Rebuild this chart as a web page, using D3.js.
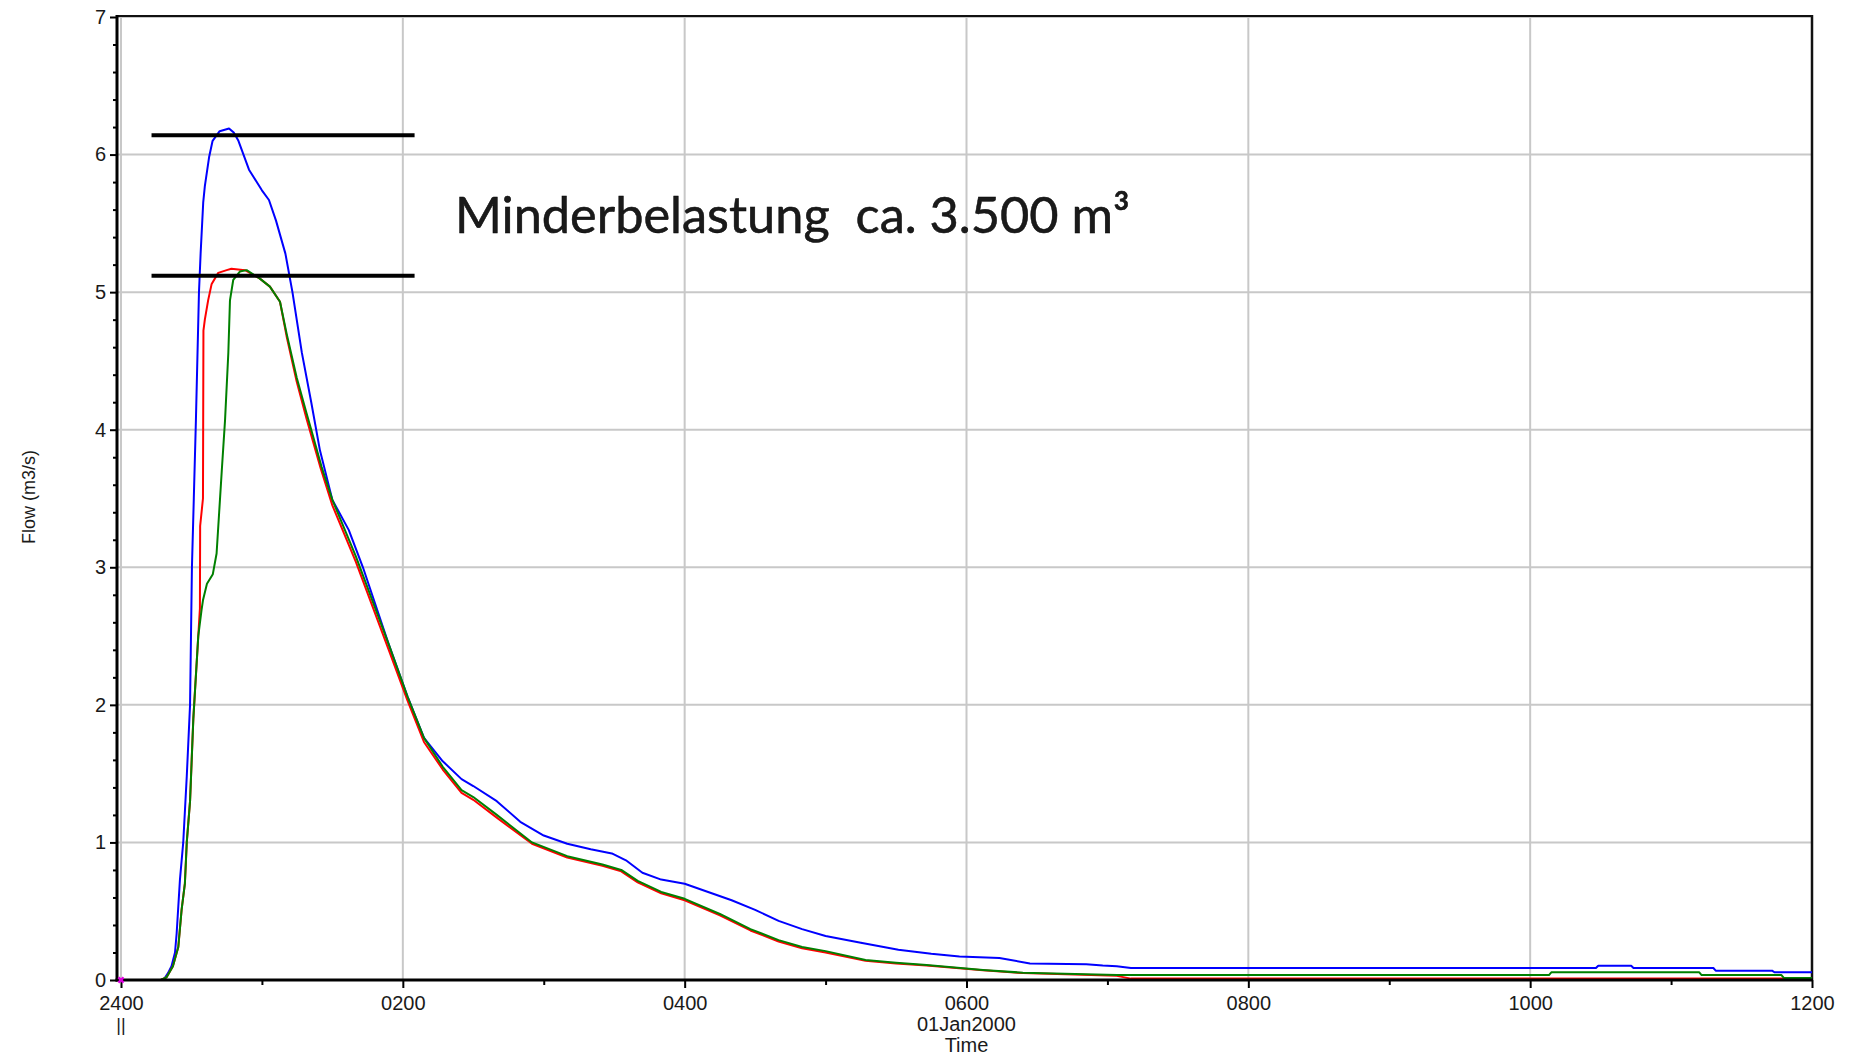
<!DOCTYPE html>
<html>
<head>
<meta charset="utf-8">
<script src="https://cdn.jsdelivr.net/npm/d3@7"></script>
<style>
  body { margin: 0; background: #fff; }
  svg { display: block; }
  text { font-family: "Liberation Sans", Arial, sans-serif; fill: #1a1a1a; }
</style>
</head>
<body>
<svg id="chart" width="1852" height="1056"></svg>
<script>
// time in minutes after 24:00 (31 Dec 1999), flow in m3/s
var blueTime = [0, 17, 18.5, 20, 21.5, 23, 23.7, 25.1, 26.5, 28, 29.4, 30.2, 31, 31.9, 33.2, 33.9, 35, 35.7, 37.5, 39, 42, 46, 48, 50, 54.5, 60, 63, 66, 70, 73, 77, 81, 84.7, 90, 97, 103, 114, 122, 129, 137, 145, 150, 160, 170, 180, 190, 200, 209, 215, 222, 230, 240, 250, 260, 270, 280, 290, 300, 315, 331, 345, 357, 374, 387, 411, 418, 424, 430, 628, 629, 643, 644, 678, 679, 703, 704, 720];
var blueFlow = [0, 0, 0.01, 0.05, 0.1, 0.2, 0.34, 0.73, 1.0, 1.48, 2.0, 3.0, 3.5, 4.07, 5.0, 5.28, 5.65, 5.77, 5.98, 6.1, 6.17, 6.19, 6.16, 6.1, 5.89, 5.74, 5.67, 5.52, 5.28, 5.0, 4.56, 4.2, 3.85, 3.49, 3.27, 3.0, 2.44, 2.06, 1.76, 1.59, 1.46, 1.41, 1.30, 1.15, 1.05, 0.99, 0.95, 0.92, 0.87, 0.78, 0.73, 0.70, 0.64, 0.58, 0.51, 0.43, 0.37, 0.32, 0.27, 0.22, 0.19, 0.17, 0.16, 0.12, 0.115, 0.105, 0.10, 0.087, 0.087, 0.104, 0.104, 0.087, 0.087, 0.068, 0.068, 0.056, 0.056];

var redTime = [0, 17, 19.4, 22.1, 24.4, 25.8, 27.2, 28, 29.4, 30.1, 30.8, 31.5, 32.9, 33.6, 33.7, 34.9, 35.1, 35.7, 37.1, 38.6, 41.4, 45, 47, 52.8, 59, 63.4, 67.7, 70.5, 74.8, 79, 85, 90, 100, 114, 122, 129, 137, 145, 150, 160, 175, 190, 205, 213, 220, 230, 240, 255, 268, 280, 290, 300, 317, 330, 343, 367, 384, 424, 430, 720];
var redFlow = [0, 0, 0.02, 0.1, 0.24, 0.51, 0.7, 1.0, 1.3, 1.6, 1.9, 2.1, 2.5, 2.7, 3.3, 3.5, 4.72, 4.8, 4.94, 5.06, 5.14, 5.16, 5.17, 5.16, 5.10, 5.04, 4.93, 4.68, 4.35, 4.08, 3.72, 3.45, 3.04, 2.40, 2.03, 1.73, 1.53, 1.36, 1.31, 1.18, 0.99, 0.89, 0.83, 0.79, 0.71, 0.63, 0.58, 0.47, 0.36, 0.28, 0.23, 0.20, 0.14, 0.12, 0.105, 0.07, 0.05, 0.03, 0.01, 0.01];

var greenTime = [0, 17, 19.4, 22.1, 24.4, 25.8, 27.2, 28, 29.4, 30.1, 30.8, 31.5, 32.9, 34.3, 34.9, 36.6, 39.1, 40.7, 41.8, 42.9, 44.3, 45.7, 46.4, 47.8, 50.6, 53.5, 59, 63.4, 67.7, 70.5, 74.8, 79, 81, 85.4, 90, 100, 114, 122, 129, 137, 145, 150, 160, 175, 190, 205, 213, 220, 230, 240, 255, 268, 280, 290, 300, 317, 330, 343, 367, 384, 424, 608, 609, 672, 673, 707, 708, 720];
var greenFlow = [0, 0, 0.02, 0.1, 0.24, 0.51, 0.7, 1.0, 1.3, 1.6, 1.9, 2.1, 2.5, 2.69, 2.76, 2.88, 2.95, 3.1, 3.4, 3.7, 4.07, 4.56, 4.94, 5.09, 5.15, 5.16, 5.10, 5.04, 4.93, 4.70, 4.38, 4.12, 4.0, 3.73, 3.49, 3.08, 2.44, 2.06, 1.76, 1.55, 1.38, 1.33, 1.2, 1.0, 0.9, 0.84, 0.80, 0.72, 0.64, 0.59, 0.48, 0.37, 0.29, 0.24, 0.21, 0.145, 0.126, 0.109, 0.073, 0.053, 0.036, 0.036, 0.056, 0.056, 0.036, 0.036, 0.015, 0.015];

// the two peak markers
var peakFlow = [6.14, 5.12];
var peakFrom = 13, peakTo = 125;

var xTicks = [0, 120, 240, 360, 480, 600, 720];
var xTickLabels = ["2400", "0200", "0400", "0600", "0800", "1000", "1200"];
var yTicks = [0, 1, 2, 3, 4, 5, 6, 7];
var noteText = "Minderbelastung\u00a0 ca. 3.500 m\u00b3";

var svg = d3.select("#chart");
var x = d3.scaleLinear().domain([0, 720]).range([121, 1812]);
var y = d3.scaleLinear().domain([0, 7]).range([980, 17]);

// grid
var grid = svg.append("g").attr("stroke", "#c8c8c8").attr("stroke-width", 2);
grid.selectAll("line.v").data(xTicks.slice(0, -1)).enter().append("line")
  .attr("x1", d => x(d)).attr("x2", d => x(d)).attr("y1", y(7)).attr("y2", y(0));
grid.selectAll("line.h").data(yTicks.slice(1)).enter().append("line")
  .attr("x1", x(0) - 4).attr("x2", x(720)).attr("y1", d => y(d)).attr("y2", d => y(d));

// frame top / right
svg.append("line").attr("x1", x(0) - 4).attr("x2", x(720) + 1).attr("y1", y(7) - 1).attr("y2", y(7) - 1)
  .attr("stroke", "#111").attr("stroke-width", 2);
svg.append("line").attr("x1", x(720)).attr("x2", x(720)).attr("y1", y(7) - 2).attr("y2", y(0))
  .attr("stroke", "#111").attr("stroke-width", 2.5);

// series
var line = d3.line().x(d => x(d[0])).y(d => y(d[1]));
function draw(t, v, colour) {
  svg.append("path").datum(d3.zip(t, v))
    .attr("fill", "none").attr("stroke", colour).attr("stroke-width", 2)
    .attr("stroke-linejoin", "round").attr("d", line);
}
draw(blueTime, blueFlow, "#0000ff");
draw(redTime, redFlow, "#ff0000");
draw(greenTime, greenFlow, "#008000");

// peak lines
svg.selectAll("line.peak").data(peakFlow).enter().append("line")
  .attr("x1", x(peakFrom)).attr("x2", x(peakTo))
  .attr("y1", d => y(d)).attr("y2", d => y(d))
  .attr("stroke", "#000").attr("stroke-width", 4);

// axes
svg.append("g").attr("transform", "translate(0," + y(0) + ")")
  .call(d3.axisBottom(x).tickValues(xTicks).tickSize(8).tickPadding(8)
    .tickFormat((d, i) => xTickLabels[i]));
svg.append("g").attr("transform", "translate(0," + y(0) + ")")
  .call(d3.axisBottom(x).tickValues(d3.range(60, 720, 120)).tickSize(5).tickFormat(""));

svg.append("g").attr("transform", "translate(" + (x(0) - 4) + ",0)")
  .call(d3.axisLeft(y).tickValues(yTicks).tickSize(7).tickPadding(4).tickFormat(d3.format("d")));
svg.append("g").attr("transform", "translate(" + (x(0) - 4) + ",0)")
  .call(d3.axisLeft(y).tickValues(d3.range(0, 35).map(d => d / 5).filter(d => d % 1 !== 0))
    .tickSize(4).tickFormat(""));

svg.selectAll(".domain").remove();
svg.selectAll(".tick line").attr("stroke", "#000").attr("stroke-width", 2);
svg.selectAll(".tick text").style("font-size", "20px").attr("fill", "#1a1a1a");

svg.append("line").attr("x1", x(0) - 4).attr("x2", x(0) - 4).attr("y1", y(7) - 2).attr("y2", y(0) + 1.5)
  .attr("stroke", "#000").attr("stroke-width", 3);
svg.append("line").attr("x1", x(0) - 5.5).attr("x2", x(720) + 1).attr("y1", y(0)).attr("y2", y(0))
  .attr("stroke", "#000").attr("stroke-width", 3);

// start marker
svg.append("path").attr("d", d3.symbol(d3.symbolCross, 30)())
  .attr("transform", "translate(" + x(0) + "," + y(0) + ") rotate(45)")
  .attr("fill", "#e000e0");

// axis titles
svg.append("text").attr("x", x(360)).attr("y", 1031).attr("text-anchor", "middle")
  .style("font-size", "20px").text("01Jan2000");
svg.append("text").attr("x", x(360)).attr("y", 1052).attr("text-anchor", "middle")
  .style("font-size", "20px").text("Time");
svg.append("text").attr("x", x(0)).attr("y", 1031).attr("text-anchor", "middle")
  .style("font-size", "18px").text("||");
svg.append("text").attr("transform", "translate(35,497) rotate(-90)").attr("text-anchor", "middle")
  .style("font-size", "18px").text("Flow (m3/s)");

// annotation
var note = svg.append("text").attr("x", 455).attr("y", 233)
  .style("font-family", "Lato, 'Open Sans', sans-serif").style("font-size", "50px")
  .attr("fill", "#000").attr("stroke", "#000").attr("stroke-width", 0.5).text(noteText);
var w = note.node().getComputedTextLength();
note.style("font-size", (50 * 675 / w).toFixed(1) + "px");
</script>
</body>
</html>
